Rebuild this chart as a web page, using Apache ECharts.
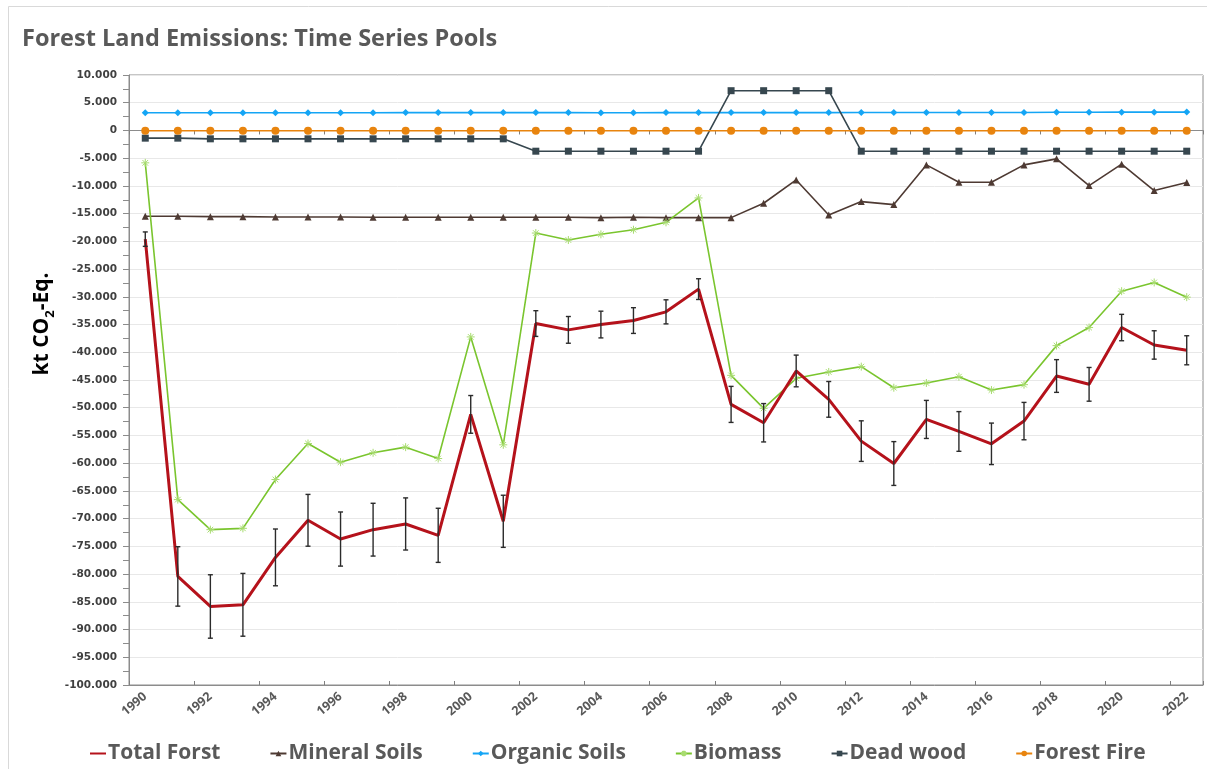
<!DOCTYPE html>
<html>
<head>
<meta charset="utf-8">
<script src="https://cdn.jsdelivr.net/npm/echarts@6/dist/echarts.min.js"></script>
<style>
html,body{margin:0;padding:0;background:#fff;}
#chart{width:1207px;height:769px;}
</style>
</head>
<body>
<div id="chart"></div>
<script>
const years = ['1990','1991','1992','1993','1994','1995','1996','1997','1998','1999','2000','2001','2002','2003','2004','2005','2006','2007','2008','2009','2010','2011','2012','2013','2014','2015','2016','2017','2018','2019','2020','2021','2022'];

const totalForst = [-19600,-80420,-85840,-85540,-76990,-70300,-73680,-71990,-70960,-73010,-51200,-70480,-34820,-35960,-35000,-34280,-32710,-28610,-49400,-52710,-43370,-48490,-56020,-60060,-52110,-54280,-56510,-52410,-44280,-45780,-35540,-38680,-39640];
const totalError = [1300,5360,5720,5660,5120,4670,4880,4760,4700,4880,3400,4700,2320,2410,2410,2320,2170,1870,3250,3460,2860,3220,3660,3950,3430,3580,3740,3370,2950,3040,2380,2560,2620];
const mineralSoils = [-15480,-15480,-15540,-15540,-15600,-15600,-15600,-15660,-15660,-15660,-15660,-15660,-15660,-15660,-15720,-15660,-15720,-15720,-15720,-13130,-8920,-15240,-12830,-13370,-6210,-9340,-9340,-6210,-5120,-9940,-6080,-10840,-9400];
const organicSoils = [3190,3190,3190,3190,3190,3190,3190,3200,3220,3220,3220,3220,3220,3220,3200,3200,3220,3220,3220,3220,3220,3220,3240,3240,3240,3240,3250,3250,3280,3290,3300,3300,3310];
const biomass = [-5840,-66570,-71990,-71750,-62950,-56450,-59820,-58130,-57110,-59160,-37230,-56690,-18500,-19760,-18730,-17900,-16570,-12170,-44160,-50120,-44700,-43550,-42590,-46390,-45540,-44400,-46810,-45840,-38800,-35540,-28980,-27410,-30060];
const deadWood = [-1390,-1390,-1510,-1510,-1510,-1510,-1510,-1510,-1510,-1510,-1510,-1510,-3740,-3740,-3740,-3740,-3740,-3740,7170,7170,7170,7170,-3740,-3740,-3740,-3740,-3740,-3740,-3740,-3740,-3740,-3740,-3740];
const forestFire = [-40,-40,-40,-40,-40,-40,-40,-40,-40,-40,-40,-40,-50,-40,-40,-40,-40,-40,-40,-40,-40,-40,-40,-40,-40,-40,-40,-40,-40,-40,-40,-40,-40];

const seriesNames = ['Total Forst','Mineral Soils','Organic Soils','Biomass','Dead wood','Forest Fire'];

const fmt = v => {
  const neg = v < 0; let a = Math.abs(v);
  let s = String(a).replace(/\B(?=(\d{3})+(?!\d))/g, '.');
  return (neg ? '-' : '') + s;
};

const chart = echarts.init(document.getElementById('chart'), null, {renderer:'canvas'});

const starPath = 'path://M5,0 L5,10 M0,5 L10,5 M1.5,1.5 L8.5,8.5 M8.5,1.5 L1.5,8.5';

const option = {
  animation: false,
  backgroundColor: '#ffffff',
  title: {
    text: 'Forest Land Emissions: Time Series Pools',
    left: 17, top: 22,
    textStyle: {fontFamily: 'Open Sans', fontWeight: 'bold', fontSize: 23.5, color: '#595959'}
  },
  graphic: [
    {type: 'rect', shape: {x: 8.5, y: 6.5, width: 1300, height: 900}, style: {fill: 'none', stroke: '#D9D9D9', lineWidth: 1}, silent: true, z: -1},
    {type: 'text', x: 40, y: 324, rotation: Math.PI / 2,
     style: {
       text: '{a|kt CO}{b|2}{a|-Eq.}',
       align: 'center', verticalAlign: 'middle',
       rich: {
         a: {fontFamily: 'Open Sans', fontWeight: 'bold', fontSize: 21, color: '#404040', lineHeight: 26, verticalAlign: 'bottom'},
         b: {fontFamily: 'Open Sans', fontWeight: 'bold', fontSize: 13, color: '#404040', lineHeight: 26, verticalAlign: 'bottom', padding: [0, 0, -4, 0]}
       }
     }}
  ],
  legend: {
    data: [
      {name: 'Total Forst', itemStyle: {opacity: 0}},
      {name: 'Mineral Soils'}, {name: 'Organic Soils'}, {name: 'Biomass'}, {name: 'Dead wood'}, {name: 'Forest Fire'}
    ],
    left: 84, top: 738,
    itemWidth: 16, itemHeight: 7, itemGap: 49,
    textStyle: {fontFamily: 'Open Sans', fontWeight: 'bold', fontSize: 21, color: '#595959', padding: [0,0,0,-3]}
  },
  grid: {left: 129, right: 4, top: 75, bottom: 84, show: true, borderColor: '#8C8C8C', borderWidth: 1, containLabel: false},
  xAxis: [
    {type: 'category', data: years, position: 'bottom',
     axisLine: {onZero: false, lineStyle: {color: '#8C8C8C'}},
     axisTick: {show: false},
     axisLabel: {interval: 1, rotate: 40, margin: 10, fontFamily: 'Open Sans', fontWeight: 'bold', fontSize: 12.5, color: '#595959'},
     splitLine: {show: false}},
    {type: 'category', data: years, position: 'bottom',
     axisLine: {onZero: true, lineStyle: {color: '#8C8C8C'}},
     axisTick: {show: true, inside: false, length: 4, lineStyle: {color: '#7F7F7F'}},
     axisLabel: {show: false}, splitLine: {show: false}},
    {type: 'category', data: years, position: 'bottom',
     axisLine: {onZero: true, show: false},
     axisTick: {show: true, inside: true, length: 4, lineStyle: {color: '#7F7F7F'}},
     axisLabel: {show: false}, splitLine: {show: false}}
  ],
  yAxis: {
    type: 'value', min: -100000, max: 10000, interval: 5000,
    axisLine: {show: true, lineStyle: {color: '#8C8C8C'}},
    axisTick: {show: true, length: 6, lineStyle: {color: '#8C8C8C'}},
    minorTick: {show: true, splitNumber: 2, length: 6, lineStyle: {color: '#8C8C8C'}},
    splitLine: {show: true, lineStyle: {color: '#E8E8E8', width: 1}},
    axisLabel: {formatter: fmt, margin: 12, fontFamily: 'DejaVu Sans', fontWeight: 'bold', fontSize: 10.5, color: '#404040'}
  },
  series: [
    {name: 'Total Forst', type: 'line', data: totalForst, symbol: 'none', z: 5,
     lineStyle: {color: '#B5121B', width: 3}, itemStyle: {color: '#B5121B'}},
    {name: 'Mineral Soils', type: 'line', data: mineralSoils, symbol: 'triangle', symbolSize: 7,
     lineStyle: {color: '#4E3A33', width: 1.6}, itemStyle: {color: '#4E3A33'}},
    {name: 'Organic Soils', type: 'line', data: organicSoils, symbol: 'diamond', symbolSize: 7,
     lineStyle: {color: '#14A5F5', width: 1.6}, itemStyle: {color: '#14A5F5'}},
    {name: 'Biomass', type: 'line', data: biomass, symbol: starPath, symbolSize: 8,
     lineStyle: {color: '#7AC52E', width: 1.6}, itemStyle: {color: '#A8DC70', borderColor: '#A8DC70', borderWidth: 1}},
    {name: 'Dead wood', type: 'line', data: deadWood, symbol: 'rect', symbolSize: 7,
     lineStyle: {color: '#37474F', width: 1.6}, itemStyle: {color: '#37474F'}},
    {name: 'Forest Fire', type: 'line', data: forestFire, symbol: 'circle', symbolSize: 8,
     lineStyle: {color: '#E8840E', width: 1.6}, itemStyle: {color: '#E8840E'}},
    {name: 'errors', type: 'custom', z: 6,
     data: years.map((y, i) => [i, totalForst[i], totalError[i]]),
     renderItem: function (params, api) {
       const x = api.value(0), v = api.value(1), e = api.value(2);
       const hi = api.coord([x, v + e]);
       const lo = api.coord([x, v - e]);
       const w = 2.5;
       const st = {stroke: '#2b2b2b', lineWidth: 1.4};
       return {type: 'group', children: [
         {type: 'line', shape: {x1: hi[0], y1: hi[1], x2: lo[0], y2: lo[1]}, style: st},
         {type: 'line', shape: {x1: hi[0]-w, y1: hi[1], x2: hi[0]+w, y2: hi[1]}, style: st},
         {type: 'line', shape: {x1: lo[0]-w, y1: lo[1], x2: lo[0]+w, y2: lo[1]}, style: st}
       ]};
     }}
  ]
};
chart.setOption(option);
</script>
</body>
</html>
